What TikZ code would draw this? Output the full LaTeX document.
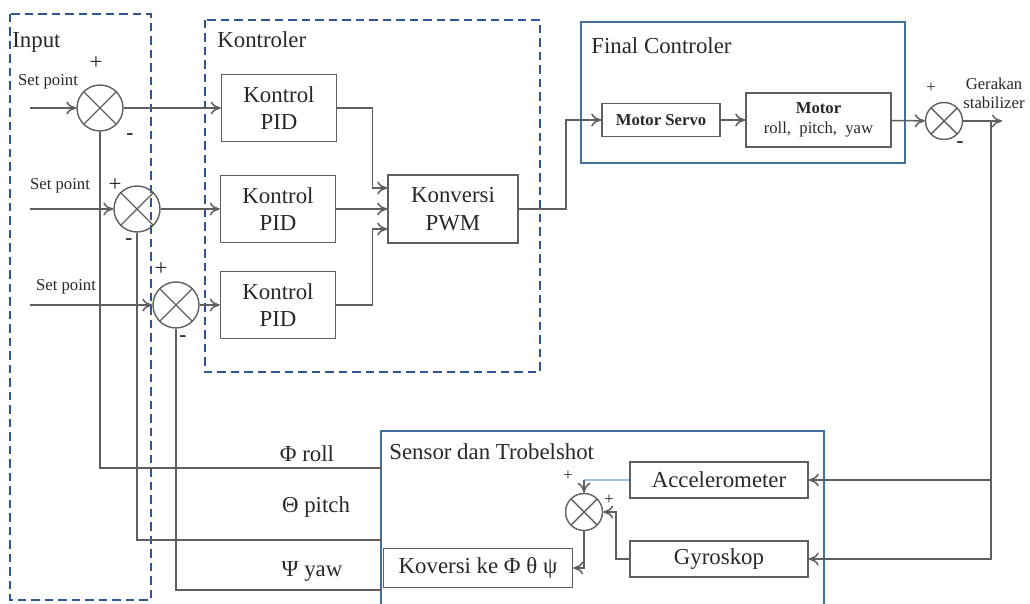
\documentclass[tikz,border=0pt]{standalone}
\usepackage{fontspec}
\setmainfont{Liberation Serif}
\usetikzlibrary{positioning,arrows.meta}
\definecolor{linegray}{RGB}{95,95,95}
\definecolor{txtgray}{RGB}{40,40,40}
\definecolor{grpblue}{RGB}{47,85,151}
\definecolor{frameblue}{RGB}{65,113,156}
\definecolor{wireblue}{RGB}{157,195,230}
\tikzset{block node/.style={rectangle,draw=linegray,line width=0.9pt,text=txtgray,align=center,inner sep=1pt,font=\fontsize{13}{15.5}\selectfont},
  sum node/.style={circle,draw=linegray,line width=0.8pt,inner sep=0pt,minimum size=#1,
    path picture={\draw[linegray,line width=0.8pt] (path picture bounding box.north west) -- (path picture bounding box.south east)
      (path picture bounding box.north east) -- (path picture bounding box.south west);}},
  sum node/.default=0.92cm,
  flow/.style={draw=linegray,line width=0.85pt,-{To[length=2mm,width=2.6mm]}},
  wire/.style={draw=linegray,line width=0.85pt},
  group box/.style={draw=grpblue,line width=1.6pt,dash pattern=on 0.17cm off 0.1cm},
  frame box/.style={draw=frameblue,line width=1.6pt},
  label node/.style={text=txtgray,font=\fontsize{13}{15.5}\selectfont,inner sep=0pt},
  small node/.style={text=txtgray,font=\fontsize{9.5}{11}\selectfont,inner sep=0pt,align=center},
  plus node/.style={text=txtgray,font=\fontsize{13}{13}\selectfont,inner sep=0pt},
  sign node/.style={text=txtgray,font=\fontsize{12}{12}\selectfont\bfseries,inner sep=0pt} }
\begin{document}
\begin{tikzpicture}[x=0.02cm,y=-0.02cm]
\useasboundingbox (0,0) rectangle (1030,604);

  % group frames
  \draw[group box] (10,14) rectangle (151,600);
  \draw[group box] (205,20) rectangle (540,372);
  \draw[frame box] (581,22) rectangle (905,163);
  \draw[frame box] (381,431) rectangle (824,608);

  \node[label node,anchor=west] (inlbl) at (12,42) {Input};
  \node[label node,anchor=west] (ktlbl) at (217,40) {Kontroler};
  \node[label node,anchor=west] (fclbl) at (591,46) {Final Controler};
  \node[label node,anchor=west] (snlbl) at (389,452) {Sensor dan Trobelshot};

  % summing points
  \node[sum node] (s1) at (100,108) {};
  \node[sum node] (s2) at (137,209) {};
  \node[sum node] (s3) at (176,305) {};
  \node[sum node=0.74cm] (s4) at (944,121) {};
  \node[sum node=0.74cm] (s5) at (584,512) {};

  \node[plus node] (p1) at (96,63) {+};
  \node[sign node] (m1) at (130,137) {-};
  \node[plus node] (p2) at (115,185) {+};
  \node[sign node] (m2) at (129,242) {-};
  \node[plus node] (p3) at (161,269) {+};
  \node[sign node] (m3) at (183,339) {-};
  \node[small node] (p4) at (931,88) {+};
  \node[sign node] (m4) at (960,145) {-};
  \node[small node] (p5) at (568,476) {+};
  \node[small node] (p6) at (609,500) {+};

  \node[small node] (sp1) at (48,82) {Set point};
  \node[small node] (sp2) at (60,186) {Set point};
  \node[small node] (sp3) at (66,287) {Set point};
  \coordinate (in1) at (30,108);
  \coordinate (in2) at (30,209);
  \coordinate (in3) at (30,305);

  % blocks
  \node[block node,minimum width=2.3cm,minimum height=1.34cm] (pid1) at (279,108) {Kontrol\\PID};
  \node[block node,minimum width=2.3cm,minimum height=1.34cm] (pid2) at (278,209) {Kontrol\\PID};
  \node[block node,minimum width=2.3cm,minimum height=1.34cm] (pid3) at (278,305) {Kontrol\\PID};
  \node[block node,minimum width=2.6cm,minimum height=1.36cm] (pwm) at (453,209) {Konversi\\PWM};
  \node[block node,minimum width=2.36cm,minimum height=0.66cm,font=\fontsize{9.5}{11}\selectfont\bfseries] (servo) at (661,120) {Motor Servo};
  \begin{scope}[on grid]
  \node[block node,minimum width=2.9cm,minimum height=1.08cm,font=\fontsize{9.5}{11.5}\selectfont] (motor) [right=3.15cm of servo] {\textbf{Motor}\\roll,~ pitch,~ yaw};
  \end{scope}
  \node[block node,minimum width=3.56cm,minimum height=0.72cm] (acc) at (719,480) {Accelerometer};
  \node[block node,minimum width=3.56cm,minimum height=0.72cm] (gyro) at (719,559) {Gyroskop};
  \node[block node,minimum width=3.78cm,minimum height=0.78cm] (kov) at (478,568) {Koversi ke Φ θ ψ};

  \node[small node] (gerak) at (994,93) {Gerakan\\stabilizer};
  \coordinate (out) at (1002,121);
  \coordinate (br) at (991,121);

  % forward path
  \draw[flow] (in1) -- (s1);
  \draw[flow] (in2) -- (s2);
  \draw[flow] (in3) -- (s3);
  \draw[flow] (s1) -- (pid1);
  \draw[flow] (s2) -- (pid2);
  \draw[flow] (s3) -- (pid3);
  \draw[flow] (pid1.east) -- ++(35,0) |- ([yshift=0.42cm]pwm.west);
  \draw[flow] (pid2) -- (pwm);
  \draw[flow] (pid3.east) -- ++(36,0) |- ([yshift=-0.4cm]pwm.west);
  \draw[flow] (pwm.east) -- ++(47,0) |- (servo);
  \draw[flow] (servo) -- (motor);
  \draw[flow] (motor) -- (s4);
  \draw[flow] (s4) -- (out);

  % sensor path
  \draw[flow] (br) |- (acc.east);
  \draw[flow] (br) |- (gyro.east);
  \draw[draw=wireblue,line width=0.85pt] (acc.west) -- (acc.west -| s5.north);
  \draw[flow] (acc.west -| s5.north) -- (s5.north);
  \draw[flow] (gyro.west) -- ++(-13,0) |- (s5.east);
  \draw[flow] (s5.south) |- (kov.east);

  % feedback
  \coordinate (rollfb) at (381,468);
  \coordinate (pitchfb) at (381,540);
  \coordinate (yawfb) at (381,590);
  \draw[wire] (rollfb) -| (s1.south);
  \draw[wire] (pitchfb) -| (s2.south);
  \draw[wire] (yawfb) -| (s3.south);
  \node[label node] (roll) at (307,454) {Φ roll};
  \node[label node] (pitch) at (316,507) {Θ pitch};
  \node[label node] (yaw) at (312,571) {Ψ yaw};
\end{tikzpicture}
\end{document}
